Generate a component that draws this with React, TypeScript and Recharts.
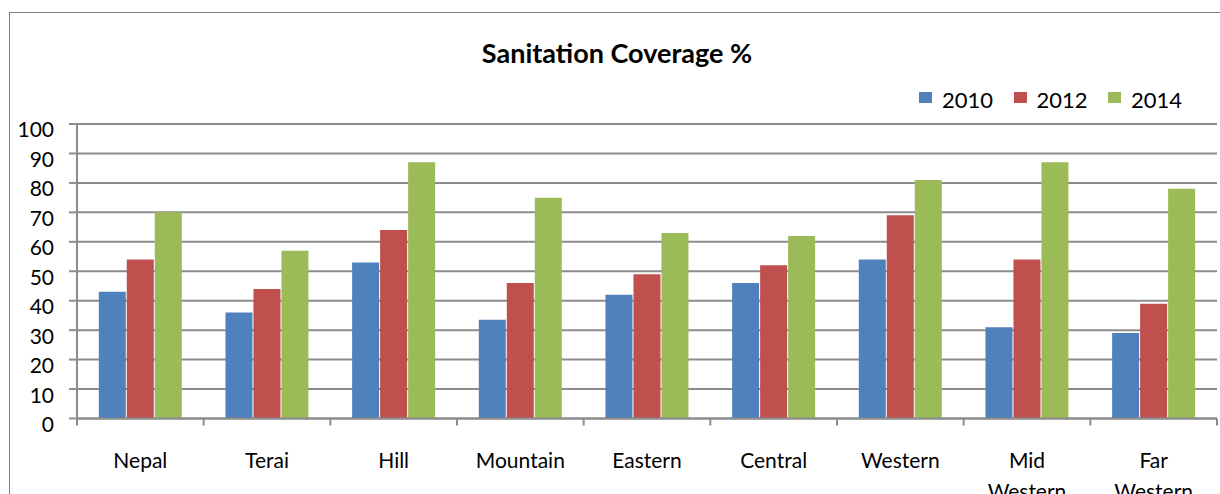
import React from 'react';
import { BarChart, Bar, XAxis, YAxis, CartesianGrid } from 'recharts';

// Sanitation coverage (%) by region and survey year
const regions = ['Nepal', 'Terai', 'Hill', 'Mountain', 'Eastern', 'Central', 'Western', 'Mid Western', 'Far Western'];
const y2010 = [43, 36, 53, 33.5, 42, 46, 54, 31, 29];
const y2012 = [54, 44, 64, 46, 49, 52, 69, 54, 39];
const y2014 = [70, 57, 87, 75, 63, 62, 81, 87, 78];
const yTicks = [0, 10, 20, 30, 40, 50, 60, 70, 80, 90, 100];

const series = [
  { key: 'y2010', name: '2010', color: '#4F81BD' },
  { key: 'y2012', name: '2012', color: '#C0504D' },
  { key: 'y2014', name: '2014', color: '#9BBB59' },
];

const data = regions.map((region, i) => ({
  region,
  y2010: y2010[i],
  y2012: y2012[i],
  y2014: y2014[i],
}));

const W = 1220;
const H = 494;
const PLOT_LEFT = 77;
const PLOT_W = 1140;
const BAND = PLOT_W / regions.length;
const GRID = '#8c8c8c';
const FONT = 'Lato, "Open Sans", sans-serif';

// category label under each band, plus tick marks on the band edges
const RegionTick = (props: any) => {
  const { x, y, payload, index } = props;
  const lines = String(payload.value).split(' ');
  return (
    <g>
      <line x1={x - BAND / 2} x2={x - BAND / 2} y1={y} y2={y + 7} stroke={GRID} strokeWidth={2} />
      {index === regions.length - 1 && (
        <line x1={x + BAND / 2} x2={x + BAND / 2} y1={y} y2={y + 7} stroke={GRID} strokeWidth={2} />
      )}
      <text x={x} y={y + 49} textAnchor="middle" fontSize={21} fontFamily={FONT} fill="#000">
        {lines.map((l, i) => (
          <tspan key={i} x={x} dy={i === 0 ? 0 : 31}>{l}</tspan>
        ))}
      </text>
    </g>
  );
};

const ValueTick = (props: any) => {
  const { x, y, payload } = props;
  return (
    <text x={x} y={y + 6} dy="0.355em" textAnchor="end" fontSize={21} fontFamily={FONT} fill="#000">
      {payload.value}
    </text>
  );
};

export default function App() {
  return (
    <div style={{ position: 'fixed', left: 0, top: 0, width: W, height: H, overflow: 'hidden', background: '#fff', fontFamily: FONT }}>
      <div style={{ position: 'absolute', left: 9, top: 12, width: 1400, height: 700, border: '1px solid #7f7f7f' }} />
      <div
        style={{
          position: 'absolute', left: 417, top: 37, width: 400, textAlign: 'center',
          fontSize: 27, fontWeight: 700, lineHeight: 1.2, color: '#000',
        }}
      >
        Sanitation Coverage %
      </div>
      <div style={{ position: 'absolute', left: 919, top: 87, display: 'flex' }}>
        {series.map((s) => (
          <div key={s.key} style={{ position: 'relative', width: 94.5, height: 27 }}>
            <div style={{ position: 'absolute', left: 0, top: 5, width: 13, height: 11, background: s.color }} />
            <div style={{ position: 'absolute', left: 23, top: 0, fontSize: 22, lineHeight: 1.2, color: '#000' }}>{s.name}</div>
          </div>
        ))}
      </div>
      <div style={{ position: 'absolute', left: 0, top: 0 }}>
        <BarChart
          width={W}
          height={H}
          data={data}
          margin={{ top: 124, right: W - PLOT_LEFT - PLOT_W, bottom: 0, left: 0 }}
          barCategoryGap="17.2%"
          barGap={1}
        >
          <CartesianGrid vertical={false} stroke={GRID} strokeWidth={2} />
          <XAxis
            dataKey="region"
            interval={0}
            height={H - 124 - 294.5}
            tickLine={false}
            tickSize={0}
            tickMargin={0}
            axisLine={{ stroke: GRID, strokeWidth: 2 }}
            tick={<RegionTick />}
          />
          <YAxis
            width={PLOT_LEFT}
            domain={[0, 100]}
            ticks={yTicks}
            interval={0}
            tickSize={8}
            tickMargin={15}
            tickLine={{ stroke: GRID, strokeWidth: 2 }}
            axisLine={{ stroke: GRID, strokeWidth: 2 }}
            tick={<ValueTick />}
          />
          {series.map((s) => (
            <Bar key={s.key} dataKey={s.key} name={s.name} fill={s.color} isAnimationActive={false} />
          ))}
        </BarChart>
      </div>
    </div>
  );
}
